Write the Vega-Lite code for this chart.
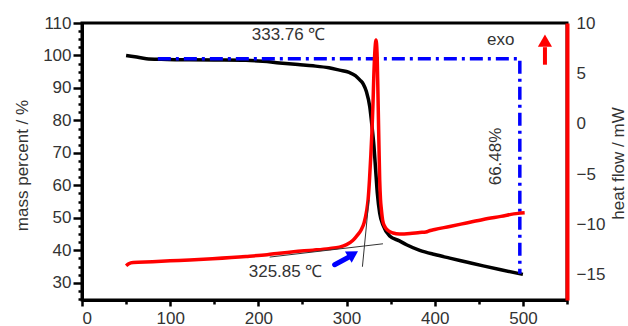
{
  "$schema": "https://vega.github.io/schema/vega-lite/v6.json",
  "width": 485,
  "height": 277,
  "autosize": {"type": "none"},
  "padding": {"left": 82, "top": 23, "right": 61, "bottom": 26},
  "background": "white",
  "config": {
    "view": {"stroke": "black", "strokeWidth": 3},
    "font": "Liberation Sans",
    "axis": {"labelFont": "Liberation Sans", "titleFont": "Liberation Sans", "labelFontSize": 17, "titleFontSize": 17, "labelColor": "#333333", "titleColor": "#333333", "titleFontWeight": "normal", "grid": false, "zindex": 1},
    "text": {"font": "Liberation Sans", "fontSize": 17, "color": "#333333"}
  },
  "datasets": {
    "mass": [
      {"T": 50, "M": 100.0}, {"T": 60, "M": 99.6}, {"T": 73, "M": 99.0}, {"T": 90, "M": 98.8},
      {"T": 111, "M": 98.7}, {"T": 150, "M": 98.6}, {"T": 186, "M": 98.5}, {"T": 205, "M": 98.2},
      {"T": 224, "M": 97.7}, {"T": 245, "M": 97.2}, {"T": 262, "M": 96.8}, {"T": 280, "M": 96.2},
      {"T": 292, "M": 95.5}, {"T": 303, "M": 94.8}, {"T": 310, "M": 93.8}, {"T": 315, "M": 92.5},
      {"T": 319, "M": 91.2}, {"T": 322.5, "M": 88.9}, {"T": 326.3, "M": 84.3}, {"T": 328.9, "M": 78.1},
      {"T": 331.1, "M": 72.0}, {"T": 333, "M": 64.8}, {"T": 334.9, "M": 57.6}, {"T": 337.6, "M": 51.4},
      {"T": 341.3, "M": 47.8}, {"T": 348.9, "M": 44.4}, {"T": 360, "M": 42.9}, {"T": 368, "M": 41.7},
      {"T": 383, "M": 40.0}, {"T": 400, "M": 38.7}, {"T": 417, "M": 37.6}, {"T": 436, "M": 36.4},
      {"T": 455, "M": 35.2}, {"T": 475, "M": 34.0}, {"T": 500, "M": 32.6}
    ],
    "heat": [
      {"T": 50, "H": -14.1}, {"T": 53, "H": -13.9}, {"T": 58, "H": -13.77}, {"T": 80, "H": -13.7},
      {"T": 110, "H": -13.57}, {"T": 148, "H": -13.4}, {"T": 186, "H": -13.18}, {"T": 210, "H": -13.0},
      {"T": 224, "H": -12.85}, {"T": 240, "H": -12.7}, {"T": 262, "H": -12.55}, {"T": 280, "H": -12.4},
      {"T": 292, "H": -12.25}, {"T": 300, "H": -12.0}, {"T": 307, "H": -11.6}, {"T": 311, "H": -11.2},
      {"T": 316.8, "H": -10.5}, {"T": 320, "H": -9.8}, {"T": 322.5, "H": -8.8}, {"T": 324.5, "H": -7.5},
      {"T": 326, "H": -5.6}, {"T": 327.5, "H": -3.2}, {"T": 328.9, "H": -0.6}, {"T": 330, "H": 2.0},
      {"T": 330.8, "H": 4.4}, {"T": 332, "H": 7.0}, {"T": 333.4, "H": 8.3}, {"T": 334.6, "H": 7.0},
      {"T": 335.3, "H": 4.4}, {"T": 336.4, "H": -0.6}, {"T": 337.6, "H": -5.6}, {"T": 338.5, "H": -7.5},
      {"T": 339.5, "H": -8.5}, {"T": 341, "H": -9.6}, {"T": 343.3, "H": -10.2}, {"T": 347, "H": -10.6},
      {"T": 352.7, "H": -10.85}, {"T": 360, "H": -10.95}, {"T": 372, "H": -10.9}, {"T": 383, "H": -10.8},
      {"T": 390, "H": -10.75}, {"T": 395, "H": -10.6}, {"T": 400, "H": -10.5}, {"T": 417, "H": -10.2},
      {"T": 436, "H": -9.85}, {"T": 455, "H": -9.5}, {"T": 475, "H": -9.2}, {"T": 494.5, "H": -8.9},
      {"T": 502, "H": -8.85}
    ],
    "loss": [
      {"T": 86, "M": 99.0, "o": 1}, {"T": 496.5, "M": 99.0, "o": 2}, {"T": 496.5, "M": 32.8, "o": 3}
    ],
    "tangents": [
      {"T": 212.8, "H": -13.24, "g": "a"}, {"T": 341.3, "H": -11.92, "g": "a"},
      {"T": 325.4, "H": -7.55, "g": "b"}, {"T": 318, "H": -14.2, "g": "b"}
    ],
    "blueShaft": [{"T": 286.5, "H": -14.0}, {"T": 305.4, "H": -13.1}],
    "blueHead": [{"T": 307.5, "H": -12.95}],
    "redShaft": [{"T": 525, "H": 5.86}, {"T": 525, "H": 7.6}],
    "redHead": [{"T": 525, "H": 8.25}],
    "labelsM": [
      {"T": 234.3, "M": 106.4, "text": "333.76 ℃"},
      {"T": 474.9, "M": 104.85, "text": "exo"},
      {"T": 230.9, "M": 33.4, "text": "325.85 ℃"}
    ],
    "labelsRot": [
      {"T": 470, "M": 68.9, "text": "66.48%"}
    ]
  },
  "encoding": {
    "x": {
      "field": "T", "type": "quantitative",
      "scale": {"domain": [0, 550], "nice": false, "zero": false},
      "axis": {
        "title": null,
        "values": [0, 50, 100, 150, 200, 250, 300, 350, 400, 450, 500, 550],
        "labelExpr": "datum.value % 100 === 0 ? datum.label : ''",
        "labelOverlap": false,
        "domainColor": "black", "domainWidth": 3,
        "tickColor": "black", "tickWidth": 2.5,
        "tickSize": {"condition": {"test": "datum.value % 100 === 0", "value": 6}, "value": 4},
        "labelPadding": 4
      }
    }
  },
  "layer": [
    {
      "encoding": {
        "y": {
          "field": "M", "type": "quantitative",
          "scale": {"domain": [24.7, 110], "nice": false, "zero": false},
          "axis": {
            "title": "mass percent / %",
            "values": [25, 27.5, 30, 32.5, 35, 37.5, 40, 42.5, 45, 47.5, 50, 52.5, 55, 57.5, 60, 62.5, 65, 67.5, 70, 72.5, 75, 77.5, 80, 82.5, 85, 87.5, 90, 92.5, 95, 97.5, 100, 102.5, 105, 107.5, 110],
            "labelExpr": "datum.value % 10 === 0 ? datum.label : ''",
            "labelOverlap": false,
            "labelBound": false,
            "domainColor": "black", "domainWidth": 3,
            "tickColor": "black", "tickWidth": 2.5,
            "tickSize": {"condition": {"test": "datum.value % 10 === 0", "value": 9}, "value": 4},
            "labelPadding": 2,
            "titleAngle": -90,
            "titleBaseline": "alphabetic",
            "titleAlign": "center",
            "titleX": -55,
            "titleY": 142
          }
        }
      },
      "layer": [
        {
          "data": {"name": "mass"},
          "mark": {"type": "line", "color": "black", "strokeWidth": 3.5, "interpolate": "monotone"}
        },
        {
          "data": {"name": "loss"},
          "mark": {"type": "line", "color": "#0000ff", "strokeWidth": 3.5, "strokeDash": [13, 5, 3, 5], "strokeCap": "butt"},
          "encoding": {"order": {"field": "o", "type": "quantitative"}}
        },
        {
          "data": {"name": "labelsM"},
          "mark": {"type": "text", "align": "center", "baseline": "middle"},
          "encoding": {"text": {"field": "text", "type": "nominal"}}
        },
        {
          "data": {"name": "labelsRot"},
          "mark": {"type": "text", "align": "center", "baseline": "middle", "angle": 270},
          "encoding": {"text": {"field": "text", "type": "nominal"}}
        }
      ]
    },
    {
      "encoding": {
        "y": {
          "field": "H", "type": "quantitative",
          "scale": {"domain": [-17.5, 10], "nice": false, "zero": false},
          "axis": {
            "orient": "right",
            "title": "heat flow / mW",
            "values": [-15, -10, -5, 0, 5, 10],
            "labelOverlap": false,
            "labelBound": false,
            "domainColor": "#ff0000", "domainWidth": 4,
            "ticks": false,
            "labelPadding": 9,
            "titleAngle": 270,
            "titleBaseline": "alphabetic",
            "titleAlign": "center",
            "titleX": 56,
            "titleY": 140
          }
        }
      },
      "layer": [
        {
          "data": {"name": "heat"},
          "mark": {"type": "line", "color": "#ff0000", "strokeWidth": 3.5, "interpolate": "monotone"}
        },
        {
          "data": {"name": "tangents"},
          "mark": {"type": "line", "color": "#333333", "strokeWidth": 1},
          "encoding": {"detail": {"field": "g", "type": "nominal"}}
        },
        {
          "data": {"name": "blueShaft"},
          "mark": {"type": "line", "color": "#0000ff", "strokeWidth": 5, "strokeCap": "round"}
        },
        {
          "data": {"name": "blueHead"},
          "mark": {"type": "point", "shape": "triangle-up", "filled": true, "color": "#0000ff", "opacity": 1, "size": 170, "angle": 59}
        },
        {
          "data": {"name": "redShaft"},
          "mark": {"type": "line", "color": "#ff0000", "strokeWidth": 4}
        },
        {
          "data": {"name": "redHead"},
          "mark": {"type": "point", "shape": "triangle-up", "filled": true, "color": "#ff0000", "opacity": 1, "size": 200}
        }
      ]
    }
  ],
  "resolve": {"scale": {"y": "independent"}, "axis": {"y": "independent"}}
}
